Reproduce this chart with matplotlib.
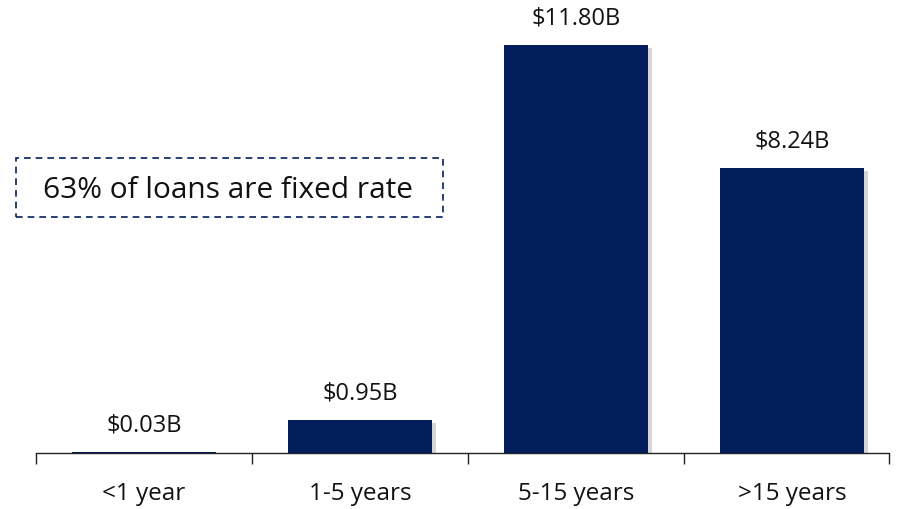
import matplotlib.pyplot as plt
import matplotlib.patheffects as pe
from matplotlib.patches import Rectangle

plt.rcParams["font.family"] = ["Open Sans", "DejaVu Sans"]

categories = ["<1 year", "1-5 years", "5-15 years", ">15 years"]
values = [0.03, 0.95, 11.80, 8.24]
labels = ["$0.03B", "$0.95B", "$11.80B", "$8.24B"]
note = "63% of loans are fixed rate"

NAVY = "#021F5C"

fig = plt.figure(figsize=(9.04, 5.09), dpi=100)
W, H = 904, 509
ax = fig.add_axes([36 / W, (H - 453) / H, 864 / W, 453 / H])

x = range(len(categories))
bars = ax.bar(x, values, width=0.667, color=NAVY, zorder=3)
for b in bars:
    b.set_path_effects([
        pe.SimplePatchShadow(offset=(3, -2), shadow_rgbFace="#777777", alpha=0.3),
        pe.Normal(),
    ])

for xi, v, lab in zip(x, values, labels):
    ax.annotate(lab, (xi, v), xytext=(0, 19), textcoords="offset points",
                ha="center", va="center", fontsize=17, color="#111111")

ax.set_xlim(-0.5, 3.5)
ax.set_ylim(0, 453 / 34.58)

for s in ["top", "right", "left"]:
    ax.spines[s].set_visible(False)
ax.spines["bottom"].set_bounds(-0.5, 3.45)
ax.spines["bottom"].set_linewidth(1.0)
ax.spines["bottom"].set_color("#222222")
ax.set_yticks([])
ax.set_xticks([-0.5, 0.5, 1.5, 2.5, 3.45])
ax.set_xticklabels([])
ax.tick_params(axis="x", length=8, width=1.0, color="#222222", direction="out")
ax.set_xticks(list(x), minor=True)
ax.set_xticklabels(categories, minor=True, fontsize=17.5, color="#111111")
ax.tick_params(axis="x", which="minor", length=0, pad=21)

# dashed callout box
box = Rectangle((16 / W, (H - 217) / H), 427 / W, 59 / H, transform=fig.transFigure,
                fill=False, edgecolor=NAVY, linestyle=(0, (4, 3)), linewidth=1.2)
fig.add_artist(box)
fig.text(228 / W, (H - 190) / H, note, ha="center", va="center",
         fontsize=21.5, color="#111111")

fig.savefig("out.png", dpi=100)
